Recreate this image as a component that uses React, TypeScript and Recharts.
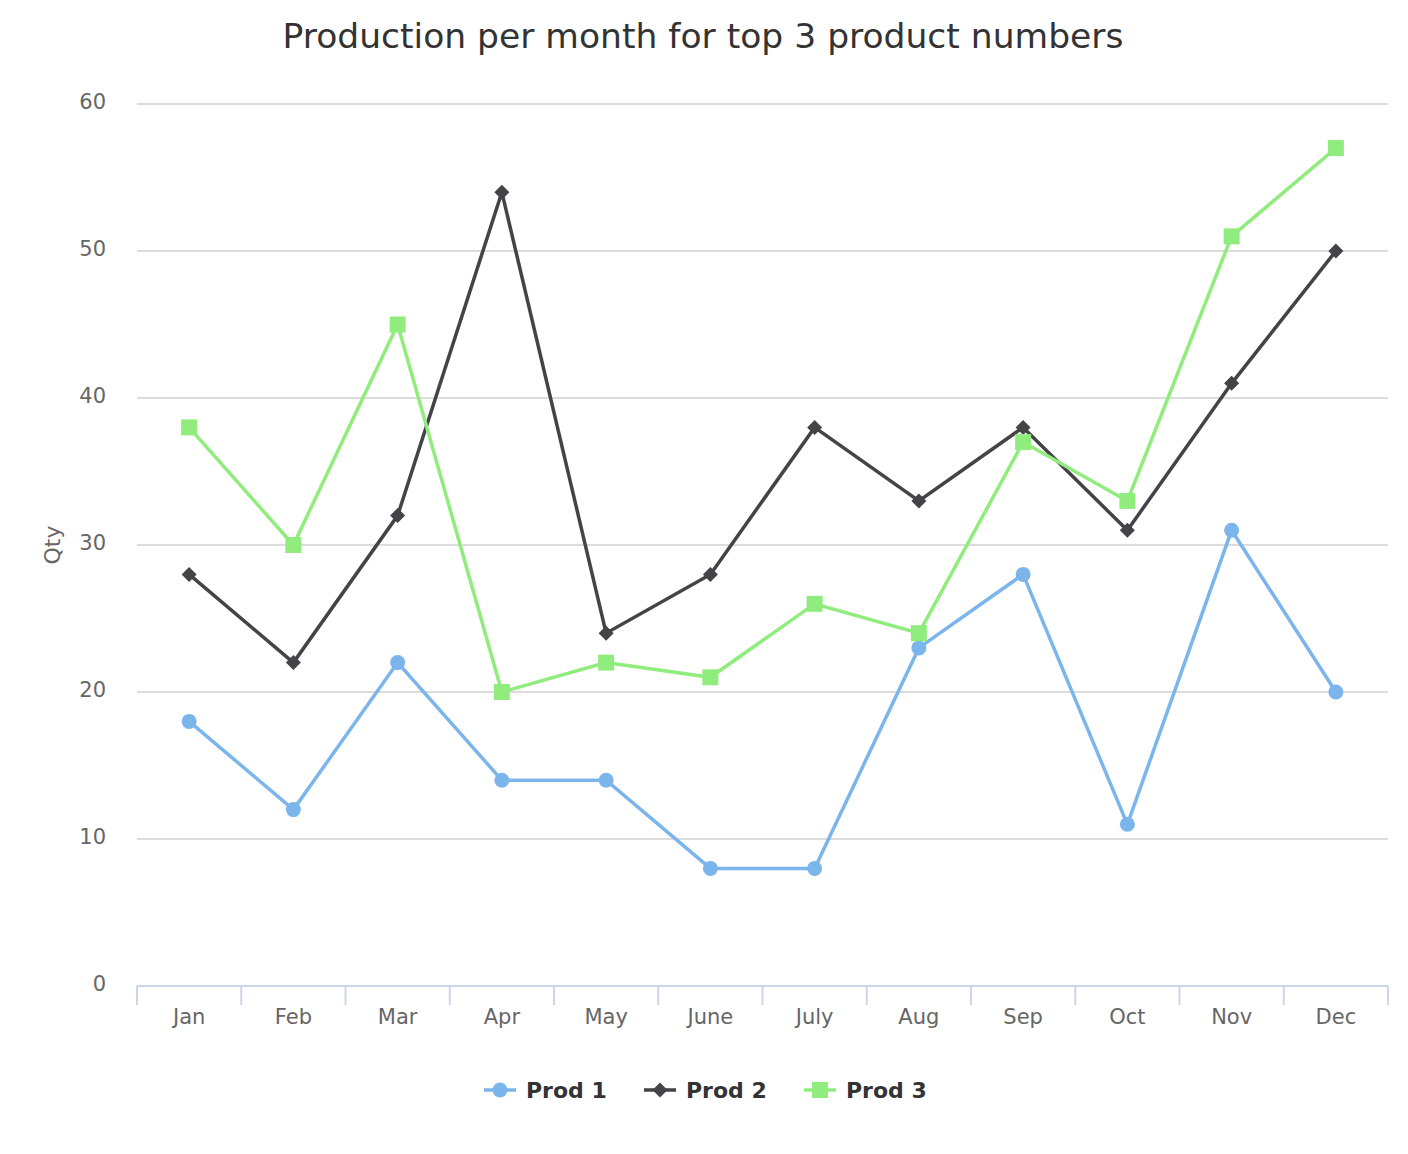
import React from 'react';
import { LineChart, Line, XAxis, YAxis, CartesianGrid } from 'recharts';

const months = ['Jan', 'Feb', 'Mar', 'Apr', 'May', 'June', 'July', 'Aug', 'Sep', 'Oct', 'Nov', 'Dec'];
const prod1 = [18, 12, 22, 14, 14, 8, 8, 23, 28, 11, 31, 20];
const prod2 = [28, 22, 32, 54, 24, 28, 38, 33, 38, 31, 41, 50];
const prod3 = [38, 30, 45, 20, 22, 21, 26, 24, 37, 33, 51, 57];
const yTicks = [0, 10, 20, 30, 40, 50, 60];
const xBoundaries = [0, 1, 2, 3, 4, 5, 6, 7, 8, 9, 10, 11, 12];

const seriesNames = ['Prod 1', 'Prod 2', 'Prod 3'];
const colors = ['#7cb5ec', '#434348', '#90ed7d'];

const data = months.map((m, i) => ({ x: i + 0.5, month: m, p1: prod1[i], p2: prod2[i], p3: prod3[i] }));

const W = 1408;
const H = 1154;
const M = { top: 104, right: 20, bottom: 108, left: 57 };
const Y_W = 80;
const X_H = 60;
const PLOT_W = W - M.left - M.right - Y_W;
const HALF_BAND = PLOT_W / months.length / 2;
const FONT = '"DejaVu Sans", sans-serif';

const XTick = (props: any) => {
  const { x, y, payload } = props;
  const idx = payload.value;
  if (idx >= months.length) return null;
  return (
    <text x={x + HALF_BAND} y={y + 19} textAnchor="middle" fill="#666666" fontSize={21} fontFamily={FONT}>
      {months[idx]}
    </text>
  );
};

const YTick = (props: any) => {
  const { x, y, payload } = props;
  return (
    <text x={x} y={y + 5} textAnchor="end" fill="#666666" fontSize={21} fontFamily={FONT}>
      {payload.value}
    </text>
  );
};

const CircleDot = (props: any) => {
  const { cx, cy } = props;
  if (cx == null || cy == null) return null;
  return <circle cx={cx} cy={cy} r={7.5} fill={colors[0]} />;
};
const DiamondDot = (props: any) => {
  const { cx, cy } = props;
  if (cx == null || cy == null) return null;
  const s = 7.5;
  return <polygon points={`${cx},${cy - s} ${cx + s},${cy} ${cx},${cy + s} ${cx - s},${cy}`} fill={colors[1]} />;
};
const SquareDot = (props: any) => {
  const { cx, cy } = props;
  if (cx == null || cy == null) return null;
  return <rect x={cx - 8} y={cy - 8} width={16} height={16} fill={colors[2]} />;
};

const legendX = [484, 644, 804];

const LegendSymbol = ({ i, x, y }: { i: number; x: number; y: number }) => {
  const c = colors[i];
  const cx = x + 16;
  let marker;
  if (i === 0) marker = <circle cx={cx} cy={y} r={7.5} fill={c} />;
  else if (i === 1) marker = <polygon points={`${cx},${y - 7.5} ${cx + 7.5},${y} ${cx},${y + 7.5} ${cx - 7.5},${y}`} fill={c} />;
  else marker = <rect x={cx - 8} y={y - 8} width={16} height={16} fill={c} />;
  return (
    <g>
      <line x1={x} x2={x + 32} y1={y} y2={y} stroke={c} strokeWidth={3.5} />
      {marker}
      <text x={x + 42} y={y + 8} fill="#333333" fontSize={22} fontWeight="bold" fontFamily={FONT}>
        {seriesNames[i]}
      </text>
    </g>
  );
};

export default function App() {
  return (
    <div style={{ position: 'absolute', left: 0, top: 0, width: W, height: H, background: '#fff' }}>
      <LineChart width={W} height={H} data={data} margin={M}>
        <CartesianGrid horizontal vertical={false} stroke="#dcdcdc" strokeWidth={1.8} />
        <XAxis
          dataKey="x"
          type="number"
          domain={[0, 12]}
          ticks={xBoundaries}
          interval={0}
          height={X_H}
          axisLine={{ stroke: '#ccd6eb', strokeWidth: 2 }}
          tickLine={{ stroke: '#ccd6eb', strokeWidth: 2 }}
          tickSize={19}
          tickMargin={0}
          tick={<XTick />}
        />
        <YAxis
          type="number"
          domain={[0, 60]}
          ticks={yTicks}
          interval={0}
          width={Y_W}
          axisLine={false}
          tickLine={false}
          tickSize={0}
          tickMargin={31}
          tick={<YTick />}
          label={{
            content: (p: any) => {
              const vb = p.viewBox || { x: 57, y: 104, width: 80, height: 882 };
              const lx = vb.x - 5;
              const ly = vb.y + vb.height / 2;
              return (
                <text x={lx} y={ly} transform={`rotate(-90 ${lx} ${ly})`} textAnchor="middle" dominantBaseline="central" fill="#666666" fontSize={22} fontFamily={FONT}>
                  Qty
                </text>
              );
            },
          }}
        />
        <Line type="linear" dataKey="p1" name={seriesNames[0]} stroke={colors[0]} strokeWidth={3.5} dot={<CircleDot />} activeDot={false} isAnimationActive={false} />
        <Line type="linear" dataKey="p2" name={seriesNames[1]} stroke={colors[1]} strokeWidth={3.5} dot={<DiamondDot />} activeDot={false} isAnimationActive={false} />
        <Line type="linear" dataKey="p3" name={seriesNames[2]} stroke={colors[2]} strokeWidth={3.5} dot={<SquareDot />} activeDot={false} isAnimationActive={false} />
      </LineChart>
      <svg width={W} height={H} style={{ position: 'absolute', left: 0, top: 0, pointerEvents: 'none' }}>
        <text x={703} y={48} textAnchor="middle" fill="#333333" fontSize={34.5} fontFamily={FONT}>
          Production per month for top 3 product numbers
        </text>
        {seriesNames.map((_, i) => (
          <LegendSymbol key={i} i={i} x={legendX[i]} y={1090} />
        ))}
      </svg>
    </div>
  );
}
